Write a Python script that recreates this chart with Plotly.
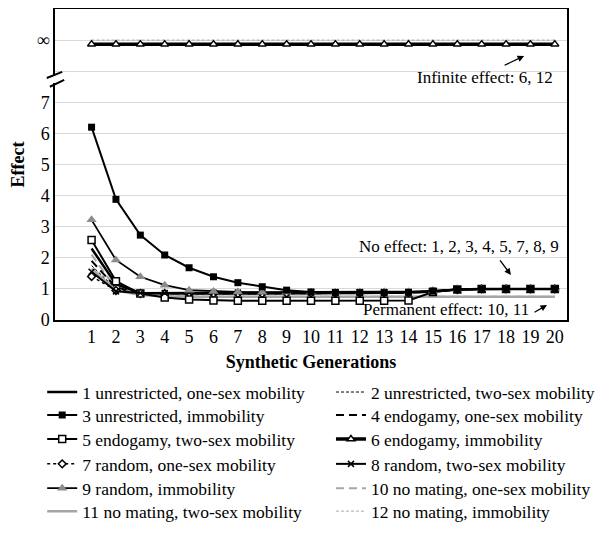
import plotly.graph_objects as go

generations = list(range(1, 21))

names = [
    "1 unrestricted, one-sex mobility",
    "2 unrestricted, two-sex mobility",
    "3 unrestricted, immobility",
    "4 endogamy, one-sex mobility",
    "5 endogamy, two-sex mobility",
    "6 endogamy, immobility",
    "7 random, one-sex mobility",
    "8 random, two-sex mobility",
    "9 random, immobility",
    "10 no mating, one-sex mobility",
    "11 no mating, two-sex mobility",
    "12 no mating, immobility",
]

s1 = [2.30, 1.15, 0.87, 0.85, 0.85, 0.85, 0.85, 0.85, 0.86, 0.87, 0.87, 0.87, 0.88, 0.88, 0.92, 0.98, 1.00, 1.00, 1.00, 1.00]
s2 = [1.75, 1.00, 0.86, 0.85, 0.85, 0.85, 0.85, 0.85, 0.86, 0.87, 0.87, 0.87, 0.88, 0.88, 0.92, 0.98, 1.00, 1.00, 1.00, 1.00]
s3 = [6.20, 3.88, 2.73, 2.09, 1.68, 1.39, 1.20, 1.07, 0.96, 0.90, 0.88, 0.88, 0.88, 0.89, 0.93, 0.98, 1.00, 1.00, 1.00, 1.00]
s4 = [1.90, 1.05, 0.86, 0.85, 0.85, 0.85, 0.85, 0.85, 0.86, 0.87, 0.87, 0.87, 0.88, 0.88, 0.92, 0.98, 1.00, 1.00, 1.00, 1.00]
s5 = [2.57, 1.25, 0.85, 0.72, 0.66, 0.63, 0.62, 0.62, 0.62, 0.62, 0.62, 0.62, 0.62, 0.63, 0.90, 0.98, 1.00, 1.00, 1.00, 1.00]
s6 = [8.87] * 20
s7 = [1.40, 0.95, 0.85, 0.85, 0.85, 0.85, 0.85, 0.85, 0.86, 0.87, 0.87, 0.87, 0.88, 0.88, 0.92, 0.98, 1.00, 1.00, 1.00, 1.00]
s8 = [1.55, 0.92, 0.87, 0.87, 0.88, 0.88, 0.88, 0.88, 0.89, 0.90, 0.90, 0.90, 0.90, 0.90, 0.92, 0.98, 1.00, 1.00, 1.00, 1.00]
s9 = [3.22, 1.93, 1.39, 1.12, 0.96, 0.92, 0.90, 0.89, 0.89, 0.89, 0.89, 0.90, 0.90, 0.90, 0.93, 0.98, 1.00, 1.00, 1.00, 1.00]
s10 = [2.10, 1.00, 0.80, 0.77, 0.76, 0.75, 0.75, 0.75, 0.75, 0.75, 0.75, 0.75, 0.75, 0.75, 0.75, 0.75, 0.75, 0.75, 0.75, 0.75]
s11 = [1.65, 0.95, 0.80, 0.76, 0.75, 0.75, 0.75, 0.75, 0.75, 0.75, 0.75, 0.75, 0.75, 0.75, 0.75, 0.75, 0.75, 0.75, 0.75, 0.75]
s12 = [9.00] * 20

y_tickvals = [0, 1, 2, 3, 4, 5, 6, 7, 8, 9]
y_ticktext = ["0", "1", "2", "3", "4", "5", "6", "7", "", "∞"]

series = [s1, s2, s3, s4, s5, s6, s7, s8, s9, s10, s11, s12]

BLACK = "#000000"
GRAY = "#a6a6a6"
styles = [
    dict(line=dict(color=BLACK, width=2.5), mode="lines"),
    dict(line=dict(color=BLACK, width=1, dash="3px,2px"), mode="lines"),
    dict(line=dict(color=BLACK, width=2), mode="lines+markers",
         marker=dict(symbol="square", size=7, color=BLACK)),
    dict(line=dict(color=BLACK, width=2, dash="8px,5px"), mode="lines"),
    dict(line=dict(color=BLACK, width=2), mode="lines+markers",
         marker=dict(symbol="square", size=7, color="white", line=dict(color=BLACK, width=1.5))),
    dict(line=dict(color=BLACK, width=3.5), mode="lines+markers",
         marker=dict(symbol="triangle-up", size=7, color="white", line=dict(color=BLACK, width=1.5))),
    dict(line=dict(color=BLACK, width=1.5, dash="dot"), mode="lines+markers",
         marker=dict(symbol="diamond", size=6, color="white", line=dict(color=BLACK, width=1.5))),
    dict(line=dict(color=BLACK, width=2), mode="lines+markers",
         marker=dict(symbol="x-thin", size=6, color=BLACK, line=dict(color=BLACK, width=1.5))),
    dict(line=dict(color=BLACK, width=1.8), mode="lines+markers",
         marker=dict(symbol="triangle-up", size=9, color="#8c8c8c")),
    dict(line=dict(color=GRAY, width=2, dash="8px,5px"), mode="lines"),
    dict(line=dict(color=GRAY, width=2.5), mode="lines"),
    dict(line=dict(color=GRAY, width=1, dash="3px,2px"), mode="lines"),
]

draw_order = [10, 9, 11, 0, 1, 3, 6, 4, 7, 8, 2, 5]

FONT = "Liberation Serif"

# one single-entry legend per series, laid out as a 2-column grid
col_x = [-0.025, 0.539]
row_y = [-0.232, -0.306, -0.383, -0.463, -0.541, -0.615]

def legend_key(i):
    return "legend" if i == 0 else "legend%d" % (i + 1)

fig = go.Figure()
traces = {}
for i in range(12):
    traces[i] = go.Scatter(x=generations, y=series[i], name=names[i],
                           legend=legend_key(i), **styles[i])
for i in draw_order:
    fig.add_trace(traces[i])

legend_layouts = {}
for i in range(12):
    legend_layouts[legend_key(i)] = dict(
        orientation="v", xanchor="left", yanchor="middle",
        x=col_x[i % 2], y=row_y[i // 2],
        font=dict(family=FONT, size=17.5), itemwidth=30,
        bgcolor="rgba(0,0,0,0)")

# the page body adds an 8px offset, margins compensate for it
fig.update_layout(
    width=598, height=527,
    margin=dict(l=47, r=39, t=1, b=215, autoexpand=False),
    paper_bgcolor="white", plot_bgcolor="white",
    font=dict(family=FONT, size=16, color="black"),
    showlegend=True,
    xaxis=dict(range=[-0.5, 20.5], tickvals=generations, ticks="", showgrid=False,
               showline=True, linecolor="black", linewidth=1.5, mirror=True,
               tickfont=dict(size=18),
               title=dict(text="<b>Synthetic Generations</b>", font=dict(size=18), standoff=9),
               zeroline=False),
    yaxis=dict(range=[0, 10], tickvals=y_tickvals, ticktext=y_ticktext, ticks="",
               showgrid=True, gridcolor="#d9d9d9", gridwidth=1,
               showline=True, linecolor="black", linewidth=1.5, mirror=True,
               tickfont=dict(size=18), zeroline=False,
               title=dict(text="<b>Effect</b>", font=dict(size=18), standoff=10)),
    **legend_layouts,
)

# axis break marks
fig.add_shape(type="rect", xref="paper", yref="y", x0=-0.006, x1=0.006, y0=7.62, y1=7.88,
              fillcolor="white", line=dict(width=0), layer="above")
fig.add_shape(type="line", xref="paper", yref="y", x0=-0.016, x1=0.014, y0=7.78, y1=7.98,
              line=dict(color="black", width=2))
fig.add_shape(type="line", xref="paper", yref="y", x0=-0.010, x1=0.018, y0=7.50, y1=7.72,
              line=dict(color="black", width=2))

ann_font = dict(family=FONT, size=17, color="black")
fig.add_annotation(x=17.14, y=7.8, text="Infinite effect: 6, 12", showarrow=False, font=ann_font)
fig.add_annotation(x=18.74, y=8.49, ax=-21, ay=10, text="", showarrow=True,
                   arrowhead=2, arrowsize=1, arrowwidth=1.3, arrowcolor="black")
fig.add_annotation(x=16.09, y=2.35, text="No effect: 1, 2, 3, 4, 5, 7, 8, 9", showarrow=False, font=ann_font)
fig.add_annotation(x=18.2, y=1.45, ax=-12, ay=-16, text="", showarrow=True,
                   arrowhead=2, arrowsize=1, arrowwidth=1.3, arrowcolor="black")
fig.add_annotation(x=15.54, y=0.35, text="Permanent effect: 10, 11", showarrow=False, font=ann_font)
fig.add_annotation(x=19.68, y=0.48, ax=-14, ay=8, text="", showarrow=True,
                   arrowhead=2, arrowsize=1, arrowwidth=1.3, arrowcolor="black")

fig.write_html("out.html")
